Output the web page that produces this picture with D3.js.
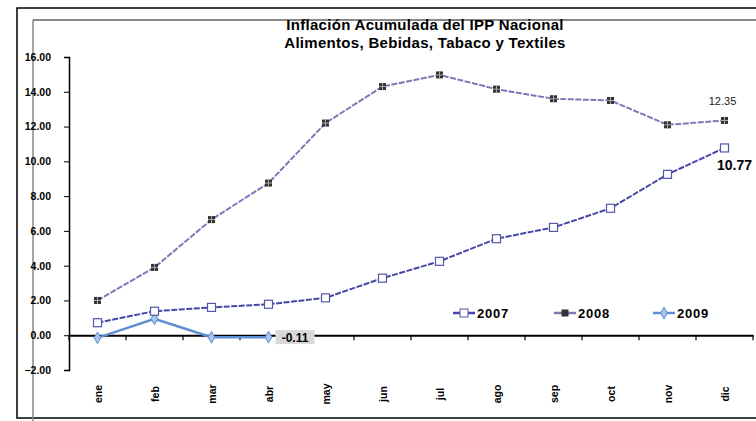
<!DOCTYPE html>
<html lang="en">
<head>
    <meta charset="UTF-8">
    <title>Inflación Acumulada del IPP Nacional</title>
    <script src="https://d3js.org/d3.v7.min.js"></script>
    <style>
        body { margin: 0; background: #fff; font-family: "Liberation Sans", Arial, sans-serif; }
        svg { display: block; }
        .tick text { font-weight: bold; fill: #000; }
    </style>
</head>
<body>
    <svg id="chart"></svg>
    <script>
        const months = ["ene", "feb", "mar", "abr", "may", "jun", "jul", "ago", "sep", "oct", "nov", "dic"];
        const v2007 = [0.72, 1.38, 1.6, 1.78, 2.15, 3.28, 4.25, 5.55, 6.2, 7.3, 9.25, 10.77];
        const v2008 = [2.0, 3.9, 6.65, 8.75, 12.2, 14.3, 14.97, 14.15, 13.6, 13.5, 12.1, 12.35];
        const v2009 = [-0.15, 0.95, -0.12, -0.11];
        const yTicks = [-2, 0, 2, 4, 6, 8, 10, 12, 14, 16];

        const width = 756, height = 421;
        const margin = { top: 57, right: 3, bottom: 51, left: 69 };
        const chartWidth = width - margin.left - margin.right;
        const chartHeight = height - margin.top - margin.bottom;

        const svg = d3.select("#chart")
            .attr("width", width)
            .attr("height", height);

        // frame lines
        svg.append("rect")
            .attr("x", 17).attr("y", 8)
            .attr("width", 760).attr("height", 410)
            .attr("fill", "none").attr("stroke", "#000").attr("stroke-width", 1.5);
        svg.append("line")
            .attr("x1", 33).attr("x2", width).attr("y1", 20).attr("y2", 20)
            .attr("stroke", "#888").attr("stroke-width", 2);
        svg.append("line")
            .attr("x1", 33).attr("x2", 33).attr("y1", 20).attr("y2", height)
            .attr("stroke", "#888").attr("stroke-width", 1.5);

        // title
        const title = svg.append("text")
            .attr("text-anchor", "middle")
            .attr("font-size", 15)
            .attr("font-weight", "bold")
            .attr("letter-spacing", 0.3);
        title.append("tspan").attr("x", 425).attr("y", 30).text("Inflación Acumulada del IPP Nacional");
        title.append("tspan").attr("x", 425).attr("y", 48).text("Alimentos, Bebidas, Tabaco y Textiles");

        const chart = svg.append("g")
            .attr("transform", `translate(${margin.left},${margin.top})`);

        const xScale = d3.scaleBand()
            .domain(months)
            .range([0, chartWidth]);

        const yScale = d3.scaleLinear()
            .domain([-2, 16])
            .range([chartHeight, 0]);

        const cx = m => xScale(m) + xScale.bandwidth() / 2;

        // y axis
        const yAxis = chart.append("g")
            .call(d3.axisLeft(yScale).tickValues(yTicks).tickFormat(d3.format(".2f")).tickSize(5).tickPadding(13));
        yAxis.selectAll("text").attr("font-size", 10.5);
        yAxis.select(".domain").attr("stroke-width", 1.5);

        // x axis at zero
        const xAxis = chart.append("g")
            .attr("transform", `translate(0,${yScale(0)})`)
            .call(d3.axisBottom(xScale).tickSize(0).tickFormat(""));
        xAxis.select(".domain").attr("stroke-width", 2);
        xAxis.selectAll(".sep")
            .data(months.concat("end"))
            .enter().append("line")
            .attr("class", "sep")
            .attr("x1", (d, i) => i * xScale.bandwidth())
            .attr("x2", (d, i) => i * xScale.bandwidth())
            .attr("y1", 0).attr("y2", 5)
            .attr("stroke", "#000").attr("stroke-width", 1.2);

        // month labels at bottom, rotated
        chart.selectAll(".mlabel")
            .data(months)
            .enter().append("text")
            .attr("class", "mlabel")
            .attr("transform", d => `translate(${cx(d) + 4},${chartHeight + 24}) rotate(-90)`)
            .attr("text-anchor", "middle")
            .attr("font-size", 10.5)
            .attr("font-weight", "bold")
            .text(d => d);

        const line = d3.line()
            .x((d, i) => cx(months[i]))
            .y(d => yScale(d));

        // 2009
        chart.append("path")
            .datum(v2009)
            .attr("d", line)
            .attr("fill", "none").attr("stroke", "#5b8fd2").attr("stroke-width", 2.5);
        chart.selectAll(".m2009")
            .data(v2009)
            .enter().append("path")
            .attr("class", "m2009")
            .attr("transform", (d, i) => `translate(${cx(months[i])},${yScale(d)})`)
            .attr("d", d3.symbol(d3.symbolDiamond, 40))
            .attr("fill", "#a9c4ea").attr("stroke", "#5b8fd2");

        // 2007
        chart.append("path")
            .datum(v2007)
            .attr("d", line)
            .attr("fill", "none").attr("stroke", "#4646a6").attr("stroke-width", 2)
            .attr("stroke-dasharray", "6,1.5");
        chart.selectAll(".m2007")
            .data(v2007)
            .enter().append("rect")
            .attr("class", "m2007")
            .attr("x", (d, i) => cx(months[i]) - 4)
            .attr("y", d => yScale(d) - 4)
            .attr("width", 8).attr("height", 8)
            .attr("fill", "#fff").attr("stroke", "#5656a8").attr("stroke-width", 1.2);

        // 2008
        chart.append("path")
            .datum(v2008)
            .attr("d", line)
            .attr("fill", "none").attr("stroke", "#7a7ab8").attr("stroke-width", 2)
            .attr("stroke-dasharray", "6,1.5");
        const m2008 = chart.selectAll(".m2008")
            .data(v2008)
            .enter().append("g")
            .attr("class", "m2008")
            .attr("transform", (d, i) => `translate(${cx(months[i])},${yScale(d)})`);
        m2008.append("rect")
            .attr("x", -3.5).attr("y", -3.5).attr("width", 7).attr("height", 7)
            .attr("fill", "#333");
        m2008.append("path")
            .attr("d", "M-3.5,0H3.5M0,-3.5V3.5")
            .attr("stroke", "#aaa").attr("stroke-width", 1);

        // value labels
        chart.append("text")
            .attr("x", cx("dic") - 2).attr("y", yScale(12.35) - 15)
            .attr("text-anchor", "middle")
            .attr("font-size", 11)
            .attr("fill", "#222")
            .text("12.35");
        chart.append("text")
            .attr("x", cx("dic") + 10).attr("y", yScale(10.77) + 22)
            .attr("text-anchor", "middle")
            .attr("font-size", 14)
            .attr("font-weight", "bold")
            .text("10.77");
        const lab09 = chart.append("g")
            .attr("transform", `translate(${cx("abr") + 7},${yScale(-0.11)})`);
        lab09.append("rect")
            .attr("x", 0).attr("y", -7).attr("width", 39).attr("height", 14)
            .attr("fill", "#d9d9d9");
        lab09.append("text")
            .attr("x", 19.5).attr("y", 4.5)
            .attr("text-anchor", "middle")
            .attr("font-size", 12)
            .attr("font-weight", "bold")
            .text("-0.11");

        // legend
        const legendItems = [
            { name: "2007", color: "#4646a6", x: 453 },
            { name: "2008", color: "#7a7ab8", x: 554 },
            { name: "2009", color: "#5b8fd2", x: 653 }
        ];
        const legend = svg.selectAll(".legend")
            .data(legendItems)
            .enter().append("g")
            .attr("class", "legend")
            .attr("transform", d => `translate(${d.x},313)`);
        legend.append("line")
            .attr("x1", 0).attr("x2", 22)
            .attr("stroke", d => d.color).attr("stroke-width", 2.5);
        legend.each(function(d, i) {
            const g = d3.select(this);
            if (i === 0) {
                g.append("rect").attr("x", 7).attr("y", -4).attr("width", 8).attr("height", 8)
                    .attr("fill", "#fff").attr("stroke", "#5656a8");
            } else if (i === 1) {
                g.append("rect").attr("x", 7.5).attr("y", -3.5).attr("width", 7).attr("height", 7)
                    .attr("fill", "#333");
            } else {
                g.append("path").attr("transform", "translate(11,0)")
                    .attr("d", d3.symbol(d3.symbolDiamond, 40))
                    .attr("fill", "#a9c4ea").attr("stroke", "#5b8fd2");
            }
        });
        legend.append("text")
            .attr("x", 24).attr("y", 5)
            .attr("font-size", 13)
            .attr("font-weight", "bold")
            .attr("letter-spacing", 0.8)
            .text(d => d.name);
    </script>
</body>
</html>
